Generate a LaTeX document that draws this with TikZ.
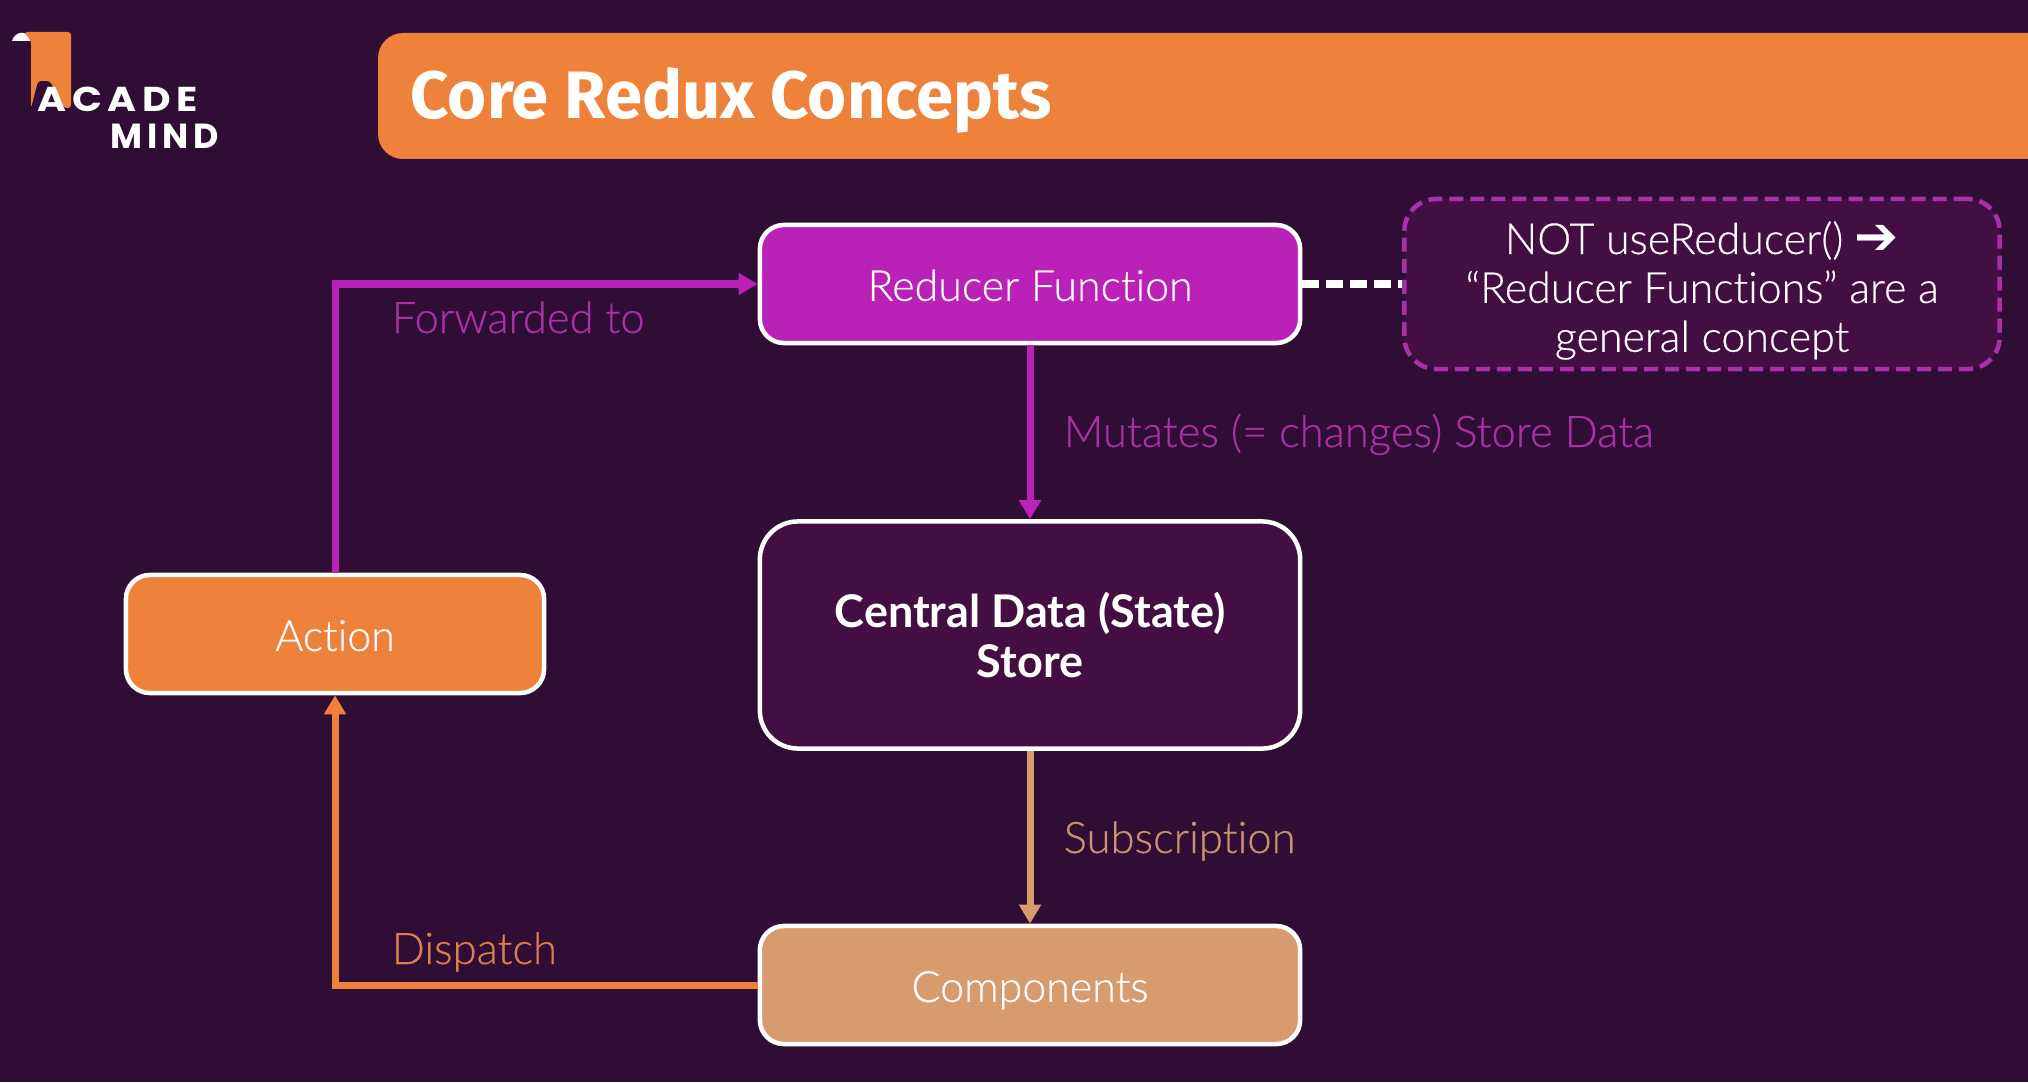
\documentclass[tikz,border=0pt]{standalone}
\usepackage{fontspec}
\setmainfont{Lato}[UprightFont=* Light,UprightFeatures={FakeBold=0.4},BoldFont=* Bold,Ligatures=NoCommon]
\newfontfamily\titlefont{Fira Sans}
\newfontfamily\logofont[LetterSpace=14]{Poppins}
\newfontfamily\symfont{DejaVu Sans}
\usetikzlibrary{arrows.meta}
\definecolor{bgdark}{HTML}{300D35}
\definecolor{boxdark}{HTML}{430E42}
\definecolor{redmag}{HTML}{BA21B6}
\definecolor{redlabel}{HTML}{A832A5}
\definecolor{actorange}{HTML}{EE823B}
\definecolor{dsplabel}{HTML}{D9804F}
\definecolor{comptan}{HTML}{D69B6F}
\definecolor{sublabel}{HTML}{C8936C}
\tikzset{
	flowbox/.style={draw=white,line width=0.045cm,rounded corners=0.24cm,align=center,text=white,font=\fontsize{12.2}{14}\selectfont},
	flatbox/.style={flowbox,minimum height=1.18cm,text height=9.6pt,text depth=0pt},
	flowline/.style={line width=0.07cm,-{Triangle[length=0.19cm,width=0.21cm]}},
	flowlabel/.style={anchor=base west,inner sep=0pt,font=\fontsize{12.4}{14}\selectfont},
}
\begin{document}
\begin{tikzpicture}[x=0.01cm,y=-0.01cm]
	\useasboundingbox (0,0) rectangle (2028,1082);
	\clip (0,0) rectangle (2028,1082);
	\fill[bgdark] (0,0) rectangle (2028,1082);
	
	% title bar
	\fill[actorange,rounded corners=0.25cm] (378,33) rectangle (2120,159);
	\node[anchor=base west,inner sep=0pt,text=white,font=\titlefont\bfseries\fontsize{19.05}{24}\selectfont] (Title) at (410,119) {Core Redux Concepts};
	
	% logo
	\fill[white] (12,41) .. controls (15,31) and (27,29) .. (32,41) -- cycle;
	\fill[actorange,rounded corners=0.03cm] (24,32) -- (71,32) -- (71,108) -- (64,108) -- (50,81) -- (38,81) -- (31,108) -- (31,41) -- cycle;
	\node[anchor=base west,inner sep=0pt,text=white,font=\logofont\bfseries\fontsize{9.8}{12}\selectfont] (LogoTop) at (37,112) {\scalebox{1.14}[1]{ACADE}};
	\node[anchor=base west,inner sep=0pt,text=white,font=\logofont\bfseries\fontsize{9.9}{12}\selectfont] (LogoBottom) at (110,149) {MIND};
	
	\node[flatbox,fill=redmag,minimum width=5.4cm] (Reducer) at (1030,284) {Reducer Function};
	\node[flowbox,fill=boxdark,minimum width=5.4cm,minimum height=2.27cm,rounded corners=0.38cm,font=\bfseries\fontsize{12.8}{14.4}\selectfont] (Store) at (1030,635) {Central Data (State)\\Store};
	\node[flatbox,fill=comptan,minimum width=5.4cm] (Components) at (1030,985) {Components};
	\node[flatbox,fill=actorange,minimum width=4.18cm] (Action) at (335,634) {Action};
	\node[flowbox,draw=redlabel,dash pattern=on 0.14cm off 0.07cm,fill=boxdark,minimum width=5.95cm,minimum height=1.7cm,inner ysep=0pt,rounded corners=0.32cm,font=\fontsize{12.2}{13.9}\selectfont] (Note) at (1702,284) {\rule{0pt}{13pt}NOT useReducer() {\symfont\bfseries\fontsize{15}{13.9}\selectfont ➔}\\“Reducer Functions” are a\\general concept};
	
	\draw[flowline,redmag] (Action.north) |- (Reducer.west);
	\draw[flowline,redmag] (Reducer.south) -- (Store.north);
	\draw[flowline,comptan] (Store.south) -- (Components.north);
	\draw[flowline,actorange] (Components.west) -| (Action.south);
	\draw[white,line width=0.07cm,dash pattern=on 0.17cm off 0.07cm] (Reducer.east) -- (Note.west);
	
	\node[flowlabel,text=redlabel] (LabelForward) at (391,333) {Forwarded to};
	\node[flowlabel,text=redlabel] (LabelMutate) at (1063,447) {Mutates (= changes) Store Data};
	\node[flowlabel,text=sublabel] (LabelSubscribe) at (1063,853) {Subscription};
	\node[flowlabel,text=dsplabel] (LabelDispatch) at (391,964) {Dispatch};
\end{tikzpicture}
\end{document}
